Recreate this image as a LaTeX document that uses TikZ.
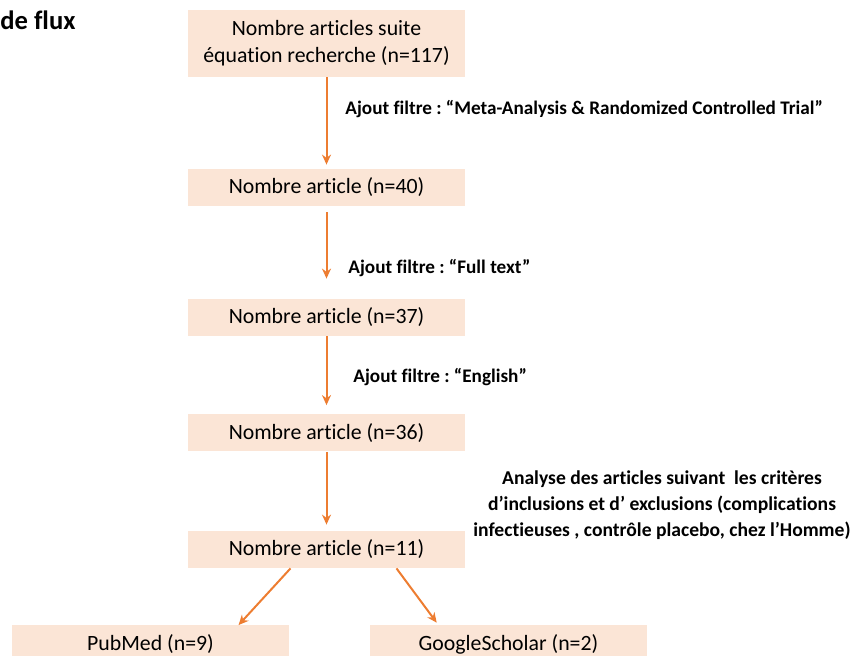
\documentclass[tikz,border=0pt]{standalone}
\usepackage{fontspec}
\setmainfont{Carlito}[Ligatures=NoCommon]
\usetikzlibrary{arrows.meta,positioning}
\definecolor{peach}{RGB}{251,229,214}
\definecolor{flow}{RGB}{237,125,49}
\frenchspacing

\begin{document}
\begin{tikzpicture}
  [x=0.5pt,y=-0.5pt,every node/.style={inner sep=0pt},
   box/.style={fill=peach,minimum width=138.5pt,minimum height=18.5pt,align=center,
     font=\fontsize{10.9}{13.5}\selectfont},
   note/.style={font=\bfseries\fontsize{9.6}{13}\selectfont},
   flowarrow/.style={draw=flow,line width=1pt,-{Stealth[length=5pt,width=4.5pt]}}]
  \useasboundingbox (0,0) rectangle (852,656);
  \clip (0,0) rectangle (852,656);
  \node[anchor=west,font=\bfseries\fontsize{13.3}{15}\selectfont] (title) at (0,20) {de flux};
  \node[box,minimum height=33.5pt] (b1) at (326.5,43.5) {Nombre articles suite\\équation recherche (n=117)};
  \node[box] (b2) at (326.5,187.5) {Nombre article (n=40)};
  \node[box] (b3) at (326.5,317.5) {Nombre article (n=37)};
  \node[box] (b4) at (326.5,433) {Nombre article (n=36)};
  \node[box] (b5) at (326.5,549.5) {Nombre article (n=11)};
  \node[box] (pub) at (150.5,644) {PubMed (n=9)};
  \node[box] (gs) at (508.5,644) {GoogleScholar (n=2)};
  \node[note,anchor=west] (f1) at (345,109) {Ajout filtre : “Meta-Analysis \& Randomized Controlled Trial”};
  \node[note,anchor=west] (f2) at (348,268) {Ajout filtre : “Full text”};
  \node[note,anchor=west] (f3) at (353,377) {Ajout filtre : “English”};
  \node[note,align=center,font=\bfseries\fontsize{9.8}{13}\selectfont] (crit) at (662,505)
    {Analyse des articles suivant\ \ les critères\\
    d’inclusions et d’ exclusions (complications\\infectieuses , contrôle placebo, chez l’Homme)};

  \foreach \from/\to/\a/\b in {b1/b2/0pt/2pt,b2/b3/3pt/10pt,b3/b4/0pt/4.5pt,b4/b5/0pt/3pt}
    \draw[flowarrow,shorten <=\a,shorten >=\b] (\from) -- (\to);
  \draw[flowarrow] ([xshift=-18pt]b5.south) -- ([xshift=44pt]pub.north);
  \draw[flowarrow,shorten >=1.5pt] ([xshift=35pt]b5.south) -- ([xshift=-35pt]gs.north);
\end{tikzpicture}
\end{document}
